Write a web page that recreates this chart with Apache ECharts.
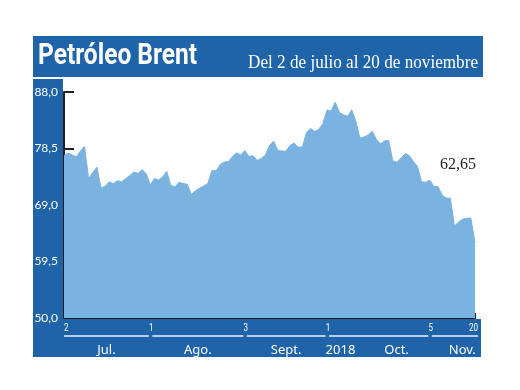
<!DOCTYPE html>
<html><head><meta charset="utf-8">
<script src="https://cdn.jsdelivr.net/npm/echarts@6/dist/echarts.min.js"></script>
<style>html,body{margin:0;padding:0;background:#fff}#c{width:520px;height:390px}</style>
</head><body><div id="c"></div>
<script>
// ---- data ----
const categories = [
 '02/07','03/07','05/07','06/07','09/07','10/07','11/07','12/07','13/07','16/07','17/07','18/07','19/07','20/07','23/07','24/07','25/07','26/07','27/07','30/07','31/07',
 '01/08','02/08','03/08','06/08','07/08','08/08','09/08','10/08','13/08','14/08','15/08','16/08','17/08','20/08','21/08','22/08','23/08','24/08','27/08','28/08','29/08','30/08','31/08',
 '03/09','04/09','05/09','06/09','07/09','10/09','11/09','12/09','13/09','14/09','17/09','18/09','19/09','20/09','21/09','24/09','25/09','26/09','27/09','28/09',
 '01/10','02/10','03/10','04/10','05/10','08/10','09/10','10/10','11/10','12/10','15/10','16/10','17/10','18/10','19/10','22/10','23/10','24/10','25/10','26/10','29/10','30/10','31/10',
 '01/11','02/11','05/11','06/11','07/11','08/11','09/11','12/11','13/11','14/11','15/11','16/11','19/11','20/11'
];
const prices = [
 77.30,77.76,77.39,77.11,78.07,78.86,73.40,74.45,75.33,71.84,72.16,72.90,72.58,73.07,72.89,73.44,73.93,74.54,74.29,74.97,74.25,
 72.39,73.45,73.21,73.75,74.65,72.28,72.07,72.81,72.61,72.46,70.76,71.43,71.83,72.21,72.63,74.78,74.73,75.82,76.21,76.31,77.14,77.77,77.42,
 78.15,77.17,77.27,76.50,76.83,77.37,79.06,79.74,78.18,78.09,78.05,79.03,79.40,78.70,78.80,81.20,81.87,81.34,81.72,82.72,
 84.98,84.80,86.29,84.58,84.16,83.91,85.00,83.09,80.26,80.43,80.78,81.41,80.05,79.29,79.78,79.83,76.44,76.17,76.89,77.62,77.34,76.31,75.47,
 72.89,72.83,73.17,72.13,72.07,70.65,70.18,70.12,65.47,66.12,66.62,66.76,66.79,62.65
];
const yTicks = [50, 59.5, 69, 78.5, 88];
const yTickLabels = ['50,0','59,5','69,0','78,5','88,0'];
const dayMarkCats = ['02/07','01/08','03/09','01/10','05/11','20/11'];
const dayMarkLabels = ['2','1','3','1','5','20'];
const monthNames = ['Jul.','Ago.','Sept.','Oct.','Nov.'];
const yearLabel = '2018';
const titleText = 'Petróleo Brent';
const subtitleText = 'Del 2 de julio al 20 de noviembre';

// ---- style ----
const BLUE = '#1f63a8';
const AREA = '#7ab3e0';
const DARK = '#231f20';

const chart = echarts.init(document.getElementById('c'), null, {renderer: 'canvas'});

function fitScale(text, font, target) {
  const c = document.createElement('canvas').getContext('2d');
  c.font = font;
  return target / c.measureText(text).width;
}

chart.setOption({
  animation: false,
  backgroundColor: '#fff',
  grid: {left: 64, right: 45, top: 92, bottom: 72},
  xAxis: {
    type: 'category', data: categories, boundaryGap: false,
    axisLine: {lineStyle: {color: DARK, width: 2}},
    axisTick: {show: true, inside: true, length: 5, interval: (i) => i === categories.length - 1,
               lineStyle: {color: DARK, width: 2}},
    axisLabel: {show: false},
    splitLine: {show: false}
  },
  yAxis: {
    type: 'value', min: 50, max: 88, interval: 9.5,
    axisLine: {show: true, lineStyle: {color: DARK, width: 2}},
    axisTick: {show: true, inside: true, length: 10, lineStyle: {color: DARK, width: 2}},
    axisLabel: {
      color: '#fff', fontFamily: 'Lato', fontSize: 12, margin: 6, padding: [7, 0, 0, 0],
      formatter: (v) => { const k = yTicks.indexOf(v); return k >= 0 ? yTickLabels[k] : v.toFixed(1).replace('.', ','); }
    },
    splitLine: {show: false}
  },
  series: [{
    type: 'line', data: prices, showSymbol: false, symbol: 'none',
    lineStyle: {width: 1, color: AREA}, itemStyle: {color: AREA},
    areaStyle: {color: AREA, opacity: 1},
    markPoint: {
      symbol: 'circle', symbolSize: 1, itemStyle: {color: 'rgba(0,0,0,0)'},
      label: {show: true, color: DARK, fontFamily: '"Liberation Serif"', fontSize: 16, offset: [-17, -78],
              formatter: (p) => p.value.toFixed(2).replace('.', ',')},
      data: [{coord: [categories.length - 1, prices[prices.length - 1]], value: prices[prices.length - 1]}]
    }
  }]
});

// ---- decorations built from axis positions ----
const px = dayMarkCats.map(c => chart.convertToPixel({xAxisIndex: 0}, c));
const g = [];
// panels
g.push({type: 'rect', z: -10, shape: {x: 33, y: 36, width: 450, height: 41}, style: {fill: BLUE}});
g.push({type: 'rect', z: -10, shape: {x: 33, y: 79, width: 30, height: 278}, style: {fill: BLUE}});
g.push({type: 'rect', z: -10, shape: {x: 33, y: 319, width: 448, height: 38}, style: {fill: BLUE}});
// title
const tFont = 'bold 30px Roboto';
g.push({type: 'text', z: 10, x: 38, y: 56, scaleX: fitScale(titleText, tFont, 159),
  style: {text: titleText, x: 0, y: 0, font: tFont, fill: '#fff', textAlign: 'left', textVerticalAlign: 'middle'}});
const sFont = '18px "Liberation Serif"';
g.push({type: 'text', z: 10, x: 478, y: 63, scaleX: fitScale(subtitleText, sFont, 230),
  style: {text: subtitleText, x: 0, y: 0, font: sFont, fill: '#fff', textAlign: 'right', textVerticalAlign: 'middle'}});
// day labels
const dFont = '10px Roboto';
for (let i = 0; i < px.length; i++) {
  let align = 'center', x = px[i] + 1;
  if (i === 0) { align = 'left'; x = px[i]; }
  if (i === px.length - 1) { align = 'right'; x = px[i] + 3; }
  g.push({type: 'text', z: 10, x: x, y: 328, scaleX: 0.8,
    style: {text: dayMarkLabels[i], x: 0, y: 0, font: dFont, fill: '#fff', textAlign: align, textVerticalAlign: 'middle'}});
}
// segment lines
const segs = [];
for (let i = 0; i < px.length - 1; i++) {
  const s = i === 0 ? px[i] : px[i] + 2;
  const e = i === px.length - 2 ? px[i + 1] + 3 : px[i + 1] - 1.5;
  segs.push([s, e]);
  g.push({type: 'line', z: 10, shape: {x1: s, y1: 336, x2: e, y2: 336}, style: {stroke: '#eef3fa', lineWidth: 1.5}});
}
// month labels
const mFont = '13px "Noto Sans"';
const monthPos = [0.5, 0.5, 0.5, 0.68, 0.66];
for (let i = 0; i < monthNames.length; i++) {
  const [s, e] = segs[i];
  g.push({type: 'text', z: 10, x: s + (e - s) * monthPos[i], y: 350,
    style: {text: monthNames[i], x: 0, y: 0, font: mFont, fill: '#fff', textAlign: 'center', textVerticalAlign: 'middle'}});
}
{
  const [s, e] = segs[3];
  g.push({type: 'text', z: 10, x: s + (e - s) * 0.115, y: 350,
    style: {text: yearLabel, x: 0, y: 0, font: mFont, fill: '#fff', textAlign: 'center', textVerticalAlign: 'middle'}});
}
chart.setOption({graphic: g});
</script>
</body></html>
